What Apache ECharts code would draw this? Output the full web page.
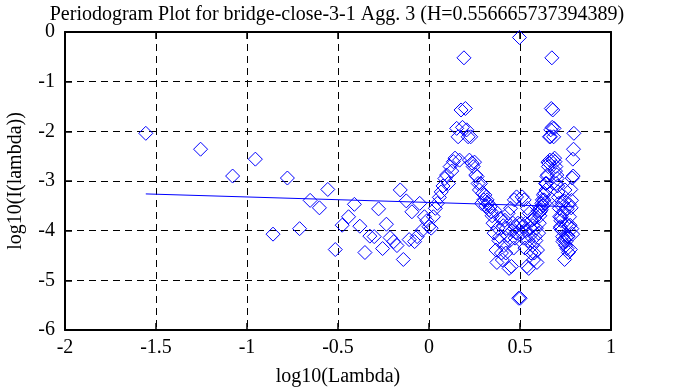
<!DOCTYPE html>
<html>
<head>
<meta charset="utf-8">
<script src="https://cdn.jsdelivr.net/npm/echarts@6/dist/echarts.min.js"></script>
<style>
html,body{margin:0;padding:0;background:#fff;}
#chart{width:674px;height:387px;}
</style>
</head>
<body>
<div id="chart"></div>
<script>
var titleText = 'Periodogram Plot for bridge-close-3-1 Agg. 3 (H=0.556665737394389)';
var xAxisName = 'log10(Lambda)';
var yAxisName = 'log10(I(lambda))';
var xTicks = [-2, -1.5, -1, -0.5, 0, 0.5, 1];
var yTicks = [-6, -5, -4, -3, -2, -1, 0];

// log10(lambda) values
var xValues = [
-1.556,-1.255,-1.079,-0.954,-0.857,-0.778,-0.711,-0.653,-0.602,-0.556,
-0.515,-0.477,-0.442,-0.410,-0.380,-0.352,-0.325,-0.301,-0.277,-0.255,
-0.234,-0.214,-0.194,-0.176,-0.158,-0.141,-0.125,-0.109,-0.094,-0.079,
-0.065,-0.051,-0.037,-0.025,-0.012,0.000,0.012,0.024,0.035,0.046,
0.057,0.067,0.077,0.087,0.097,0.107,0.116,0.125,0.134,0.143,
0.152,0.160,0.168,0.176,0.184,0.192,0.200,0.207,0.215,0.222,
0.229,0.236,0.243,0.250,0.257,0.264,0.270,0.277,0.283,0.289,
0.295,0.301,0.307,0.313,0.319,0.325,0.330,0.336,0.342,0.347,
0.352,0.358,0.363,0.368,0.373,0.378,0.384,0.388,0.393,0.398,
0.403,0.408,0.412,0.417,0.422,0.426,0.431,0.435,0.440,0.444,
0.448,0.453,0.457,0.461,0.465,0.469,0.473,0.477,0.481,0.485,
0.489,0.493,0.497,
0.501,0.505,0.509,0.512,0.516,0.520,0.523,0.527,0.531,0.534,
0.538,0.541,0.545,0.548,0.551,0.555,0.558,0.561,0.565,0.568,
0.571,0.574,0.578,0.581,0.584,0.587,0.590,0.593,0.596,0.599,
0.602,0.606,0.609,0.611,0.614,0.617,0.620,0.623,0.626,0.629,
0.632,0.634,0.637,0.640,0.643,0.646,0.648,0.651,0.654,0.656,
0.659,0.662,0.664,0.667,0.669,0.672,0.675,0.677,0.680,0.682,
0.685,0.687,0.690,0.692,0.695,0.697,0.699,0.702,0.704,0.707,
0.709,0.711,0.714,0.716,0.718,0.721,0.723,0.725,0.727,0.730,
0.732,0.734,0.736,0.739,0.741,0.743,0.745,0.747,0.750,0.752,
0.754,0.756,0.758,0.760,0.762,0.764,0.766,0.768,0.770,0.772,
0.775,0.777,0.779,0.781,0.783,0.785,0.787,0.789,0.790,0.792,
0.794,0.796
];

// log10(I(lambda)) values
var yValues = [
-2.04,-2.36,-2.90,-2.56,-4.07,-2.94,-3.96,-3.39,-3.54,-3.17,
-4.38,-3.89,-3.72,-3.47,-3.91,-4.44,-4.11,-4.12,-3.56,-4.36,
-3.87,-4.14,-4.22,-4.30,-3.18,-4.58,-3.40,-4.18,-3.62,-4.22,
-4.12,-3.45,-3.99,-3.72,-3.80,-3.92,-3.95,-3.72,-3.55,-3.45,
-3.33,-3.22,-3.10,-2.95,-2.88,-3.05,-2.71,-2.80,-2.61,-2.54,
-1.94,-2.11,-2.58,-1.57,-1.92,-0.52,-1.54,-1.97,-2.11,-2.58,
-2.11,-2.64,-2.71,-2.62,-2.88,-2.91,-3.05,-3.18,-3.05,-3.45,
-3.25,-3.38,-3.28,-3.50,-3.38,-3.45,-3.58,-3.52,-3.62,-3.70,
-3.85,-4.05,-3.60,-4.39,-4.64,-3.95,-4.20,-4.12,-3.75,-4.45,
-4.59,-3.90,-4.30,-3.79,-4.45,-3.95,-4.10,-3.65,-4.76,-4.20,
-3.55,-4.72,-4.00,-3.85,-4.35,-3.38,-4.15,-3.92,-3.32,-4.05,
-3.85,-5.36,-0.11,
-5.36,-3.85,-4.05,-3.32,-3.92,-4.15,-3.38,-4.35,-3.85,-4.00,
-4.72,-3.55,-4.20,-4.76,-3.65,-4.10,-3.95,-4.45,-3.79,-4.30,
-3.90,-4.59,-4.45,-3.75,-4.12,-4.20,-3.95,-4.64,-4.39,-3.60,
-4.05,-3.85,-3.70,-3.62,-3.52,-3.58,-3.45,-3.38,-3.50,-3.28,
-3.38,-3.25,-3.45,-3.05,-3.18,-3.05,-2.91,-2.88,-2.62,-2.71,
-2.64,-2.11,-2.58,-2.11,-1.97,-1.54,-0.52,-1.92,-1.57,-2.58,
-2.11,-1.94,-2.54,-2.61,-2.80,-2.71,-3.05,-2.88,-2.95,-3.10,
-3.22,-3.33,-3.45,-3.55,-3.72,-3.95,-3.92,-3.80,-3.72,-3.99,
-3.45,-4.12,-4.22,-3.62,-4.18,-3.40,-4.58,-3.18,-4.30,-4.22,
-4.14,-3.87,-4.36,-3.56,-4.12,-4.11,-4.44,-3.91,-3.47,-3.72,
-3.89,-4.38,-3.17,-3.54,-3.39,-3.96,-2.94,-4.07,-2.56,-2.90,
-2.36,-2.04
];

// least-squares fit line endpoints
var fitX = [-1.556, 0.796];
var fitY = [-3.26, -3.52];

var scatterData = xValues.map(function (x, i) { return [x, yValues[i]]; });
var fitData = fitX.map(function (x, i) { return [x, fitY[i]]; });

var FONT = '"Liberation Serif", "DejaVu Serif", serif';
var chart = echarts.init(document.getElementById('chart'), null, {renderer: 'canvas'});

function baseAxis(extra) {
  var o = {
    type: 'value',
    axisLine: {show: true, onZero: false, lineStyle: {color: '#000', width: 2}},
    axisTick: {show: true, inside: true, length: 7, lineStyle: {color: '#000', width: 1.5}},
    axisLabel: {show: false},
    splitLine: {show: false}
  };
  for (var k in extra) o[k] = extra[k];
  return o;
}

chart.setOption({
  backgroundColor: '#fff',
  animation: false,
  title: {
    text: titleText,
    left: 'center',
    top: 0,
    textStyle: {fontFamily: FONT, fontSize: 20, fontWeight: 'normal', color: '#000'}
  },
  grid: {left: 65, right: 63, top: 32, bottom: 57, containLabel: false, outerBoundsMode: 'none'},
  xAxis: [
    baseAxis({
      position: 'bottom', min: xTicks[0], max: xTicks[xTicks.length - 1], interval: 0.5,
      name: xAxisName, nameLocation: 'middle', nameGap: 37,
      nameTextStyle: {fontFamily: FONT, fontSize: 20, color: '#000'},
      axisLabel: {show: true, fontFamily: FONT, fontSize: 20, color: '#000', margin: 8,
        formatter: function (v) { return String(v); }},
      splitLine: {show: true, lineStyle: {color: '#000', width: 1, type: [7, 5]}}
    }),
    baseAxis({position: 'top', min: xTicks[0], max: xTicks[xTicks.length - 1], interval: 0.5})
  ],
  yAxis: [
    baseAxis({
      position: 'left', min: yTicks[0], max: yTicks[yTicks.length - 1], interval: 1,
      name: yAxisName, nameLocation: 'middle', nameGap: 39, nameRotate: 90,
      nameTextStyle: {fontFamily: FONT, fontSize: 20, color: '#000'},
      axisLabel: {show: true, fontFamily: FONT, fontSize: 20, color: '#000', margin: 10},
      splitLine: {show: true, lineStyle: {color: '#000', width: 1, type: [7, 5]}}
    }),
    baseAxis({position: 'right', min: yTicks[0], max: yTicks[yTicks.length - 1], interval: 1})
  ],
  series: [
    {
      type: 'scatter',
      data: scatterData,
      symbol: 'diamond',
      symbolSize: 14,
      itemStyle: {color: 'rgba(0,0,0,0)', borderColor: '#0000ff', borderWidth: 1, opacity: 1},
      emphasis: {disabled: true},
      z: 3
    },
    {
      type: 'line',
      data: fitData,
      showSymbol: false,
      symbol: 'none',
      lineStyle: {color: '#0000ff', width: 1},
      z: 4
    }
  ]
});
</script>
</body>
</html>
